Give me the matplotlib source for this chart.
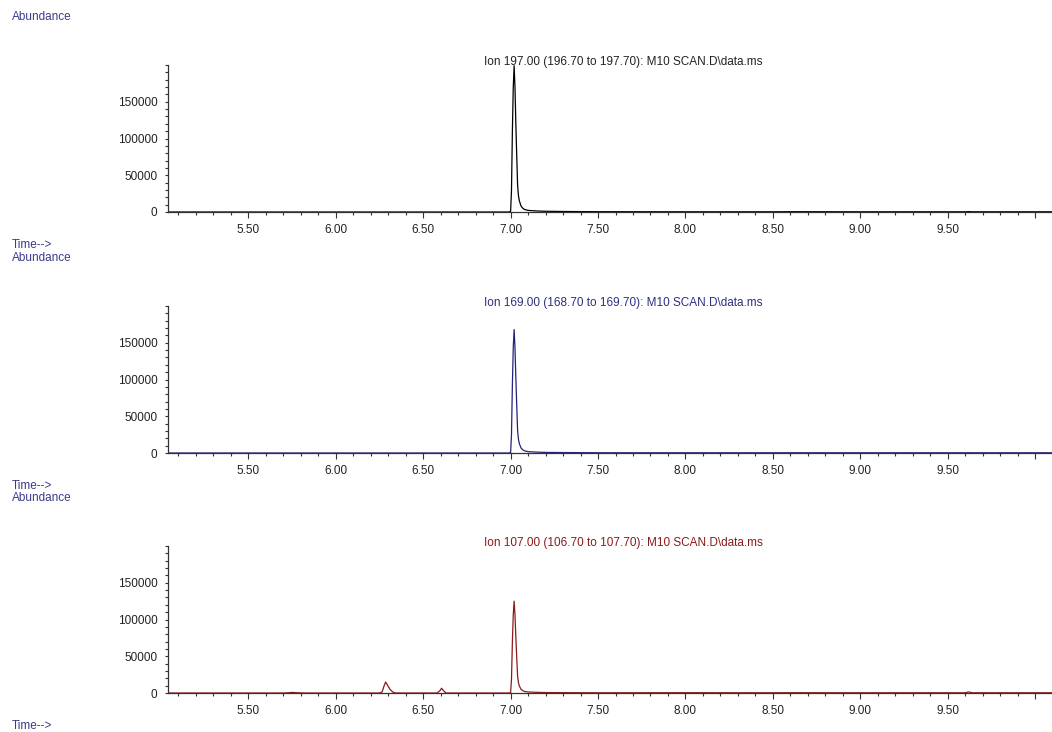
import matplotlib
matplotlib.use("Agg")
import matplotlib.pyplot as plt
from matplotlib.ticker import MultipleLocator, FixedLocator

plt.rcParams['font.family'] = ['Liberation Sans', 'DejaVu Sans']

# data
time = [5.04, 5.70, 5.73, 5.75, 5.78, 5.82,
        6.25, 6.265, 6.275, 6.285, 6.295, 6.31, 6.325, 6.34,
        6.58, 6.595, 6.605, 6.615, 6.63, 6.99,
        7.000, 7.005, 7.010, 7.015, 7.020, 7.025, 7.030, 7.035, 7.040, 7.045, 7.050,
        7.060, 7.070, 7.080, 7.100, 7.150, 7.200, 7.300, 7.500,
        8.000, 8.500, 8.600, 9.000, 9.600, 9.620, 9.640, 10.097]

ion197 = [0] * 20 + [1000, 30000, 109000, 169000, 199000, 169000, 119000, 76000, 36000, 22000, 15000,
                     8000, 5000, 3400, 2200, 1400, 1000, 700, 400,
                     300, 300, 400, 300, 300, 500, 300, 300]

ion169 = [0] * 20 + [800, 25000, 92000, 143000, 168000, 143000, 101000, 64000, 30000, 18500, 12600,
                     6700, 4200, 2900, 1800, 1200, 800, 600, 350,
                     300, 300, 350, 300, 300, 400, 300, 300]

ion107 = [0, 0, 300, 800, 300, 0,
          0, 1500, 9000, 15000, 11000, 5000, 1500, 0,
          0, 3000, 6500, 3500, 0, 0,
          600, 19000, 69000, 106000, 125000, 106000, 75000, 47500, 22500, 13700, 9400,
          5000, 3100, 2100, 1400, 900, 600, 450, 300,
          400, 300, 400, 300, 300, 1500, 300, 300]

titles = ["Ion 197.00 (196.70 to 197.70): M10 SCAN.D\\data.ms",
          "Ion 169.00 (168.70 to 169.70): M10 SCAN.D\\data.ms",
          "Ion 107.00 (106.70 to 107.70): M10 SCAN.D\\data.ms"]
series = [ion197, ion169, ion107]
line_colors = ["#000000", "#23237a", "#8b1a1a"]
title_colors = ["#222222", "#2e2e80", "#8b1a1a"]
label_color = "#3a3a8c"

xticks = [5.5, 6.0, 6.5, 7.0, 7.5, 8.0, 8.5, 9.0, 9.5]
yticks = [0, 50000, 100000, 150000]

W, H = 1052, 732
fig = plt.figure(figsize=(W / 100, H / 100), dpi=100)

# pixel rows of the three panels (top of y axis, zero line)
panels = [(65, 212), (306, 453), (546, 693)]
left_px = 168

for i, (top, bot) in enumerate(panels):
    ax = fig.add_axes([left_px / W, 1 - bot / H, 1 - left_px / W, (bot - top) / H])
    ax.plot(time, series[i], color=line_colors[i], lw=0.9)
    ax.set_xlim(5.04, 10.097)
    ax.set_ylim(0, 200000)
    ax.spines['top'].set_visible(False)
    ax.spines['right'].set_visible(False)
    for s in ['left', 'bottom']:
        ax.spines[s].set_color("#333333")
        ax.spines[s].set_linewidth(0.9)

    ax.xaxis.set_major_locator(MultipleLocator(0.5))
    ax.xaxis.set_minor_locator(MultipleLocator(0.1))
    ax.set_xticks(xticks)
    ax.set_xticklabels(["%.2f" % t for t in xticks])
    ax.xaxis.set_major_locator(FixedLocator(xticks + [10.0]))
    ax.set_xticklabels(["%.2f" % t for t in xticks] + [""])
    ax.set_yticks(yticks)
    ax.set_yticklabels([str(v) for v in yticks])
    ax.yaxis.set_minor_locator(MultipleLocator(10000))

    ax.tick_params(axis='x', which='major', length=4, width=0.8, pad=4.5,
                   labelsize=8.5, colors="#333333", labelcolor="#222222")
    ax.tick_params(axis='x', which='minor', length=2.5, width=0.8, colors="#333333")
    ax.tick_params(axis='y', which='both', length=2, width=0.8, pad=5.5,
                   labelsize=8.5, colors="#333333", labelcolor="#222222")

    fig.text(623 / W, 1 - (top - 3) / H, titles[i], color=title_colors[i],
             fontsize=8.5, ha='center', va='center')
    fig.text(12 / W, 1 - (top - 48) / H, "Abundance", color=label_color,
             fontsize=8.5, ha='left', va='center')
    fig.text(12 / W, 1 - (bot + 33) / H, "Time-->", color=label_color,
             fontsize=8.5, ha='left', va='center')

fig.savefig("out.png", dpi=100)
